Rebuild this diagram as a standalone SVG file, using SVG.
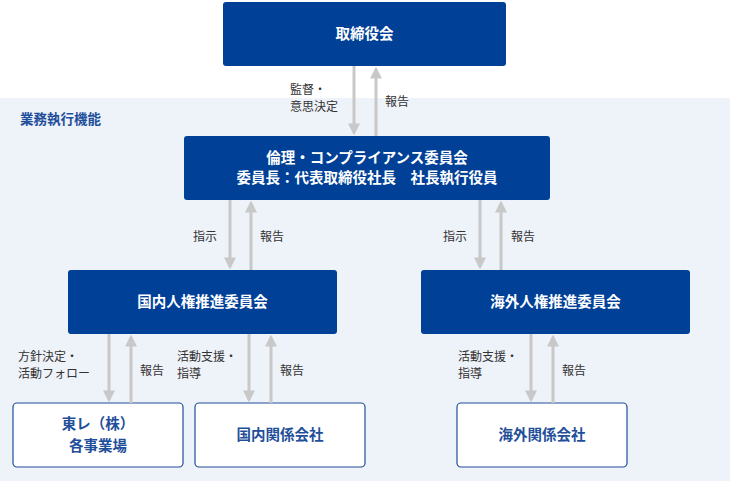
<svg xmlns="http://www.w3.org/2000/svg" width="730" height="481" viewBox="0 0 730 481">
<style>
text{font-family:"Noto Sans CJK JP","Noto Sans",sans-serif}
.w{fill:#fff;stroke:#1f4f9a;stroke-width:1.2}
.bt{fill:#fff;font-size:14.5px;font-weight:bold;text-anchor:middle}
.wt{fill:#1f4f9a;font-size:14.5px;font-weight:bold;text-anchor:middle}
.l{fill:#333;font-size:12px}
.c line{stroke:#c8c8c8;stroke-width:3}
</style>
<defs>
<marker id="a" viewBox="0 0 10 10" refX="8" refY="5" markerWidth="4" markerHeight="4" orient="auto"><path d="M0,0L10,5L0,10z" fill="#c8c8c8"/></marker>
</defs>
<rect x="0" y="98" width="730" height="383" fill="#eef2f9"/>
<text x="20" y="124" fill="#1f4f9a" font-size="13.5" font-weight="bold">業務執行機能</text>
<g id="n1"><rect fill="#004097" x="223" y="2" width="283" height="64" rx="3"/><text class="bt" x="364.5" y="39">取締役会</text></g>
<g id="n2"><rect fill="#004097" x="184" y="136" width="366" height="64" rx="3"/><text class="bt" x="367" y="163">倫理・コンプライアンス委員会</text><text class="bt" x="367" y="183" font-size="12.5">委員長：代表取締役社長　社長執行役員</text></g>
<g id="n3"><rect fill="#004097" x="68" y="270" width="269" height="64" rx="3"/><text class="bt" x="202.5" y="307">国内人権推進委員会</text></g>
<g id="n4"><rect fill="#004097" x="421" y="270" width="269" height="64" rx="3"/><text class="bt" x="555.5" y="307">海外人権推進委員会</text></g>
<g id="n5"><rect class="w" x="13" y="403" width="170" height="64" rx="4"/><text class="wt" x="98" y="429">東レ（株）</text><text class="wt" x="98" y="451">各事業場</text></g>
<g id="n6"><rect class="w" x="195" y="403" width="170" height="64" rx="4"/><text class="wt" x="280" y="440">国内関係会社</text></g>
<g id="n7"><rect class="w" x="457" y="403" width="170" height="64" rx="4"/><text class="wt" x="542" y="440">海外関係会社</text></g>
<g id="connectors" class="c">
<line x1="354" y1="66" x2="354" y2="133" marker-end="url(#a)"/>
<line x1="376" y1="136" x2="376" y2="69" marker-end="url(#a)"/>
<line x1="230" y1="200" x2="230" y2="267" marker-end="url(#a)"/>
<line x1="251" y1="270" x2="251" y2="203" marker-end="url(#a)"/>
<line x1="480" y1="200" x2="480" y2="267" marker-end="url(#a)"/>
<line x1="501" y1="270" x2="501" y2="203" marker-end="url(#a)"/>
<line x1="109" y1="334" x2="109" y2="400" marker-end="url(#a)"/>
<line x1="131" y1="403" x2="131" y2="337" marker-end="url(#a)"/>
<line x1="249" y1="334" x2="249" y2="400" marker-end="url(#a)"/>
<line x1="271" y1="403" x2="271" y2="337" marker-end="url(#a)"/>
<line x1="531" y1="334" x2="531" y2="400" marker-end="url(#a)"/>
<line x1="553" y1="403" x2="553" y2="337" marker-end="url(#a)"/>
</g>
<g id="labels">
<text class="l" x="290" y="94">監督・</text><text class="l" x="290" y="111">意思決定</text>
<text class="l" x="385" y="106">報告</text>
<text class="l" x="193" y="241">指示</text><text class="l" x="260" y="241">報告</text>
<text class="l" x="443" y="241">指示</text><text class="l" x="511" y="241">報告</text>
<text class="l" x="18" y="361">方針決定・</text><text class="l" x="18" y="378">活動フォロー</text>
<text class="l" x="140" y="375">報告</text>
<text class="l" x="177" y="361">活動支援・</text><text class="l" x="177" y="378">指導</text>
<text class="l" x="280" y="375">報告</text>
<text class="l" x="458" y="361">活動支援・</text><text class="l" x="458" y="378">指導</text>
<text class="l" x="562" y="375">報告</text>
</g>
</svg>
